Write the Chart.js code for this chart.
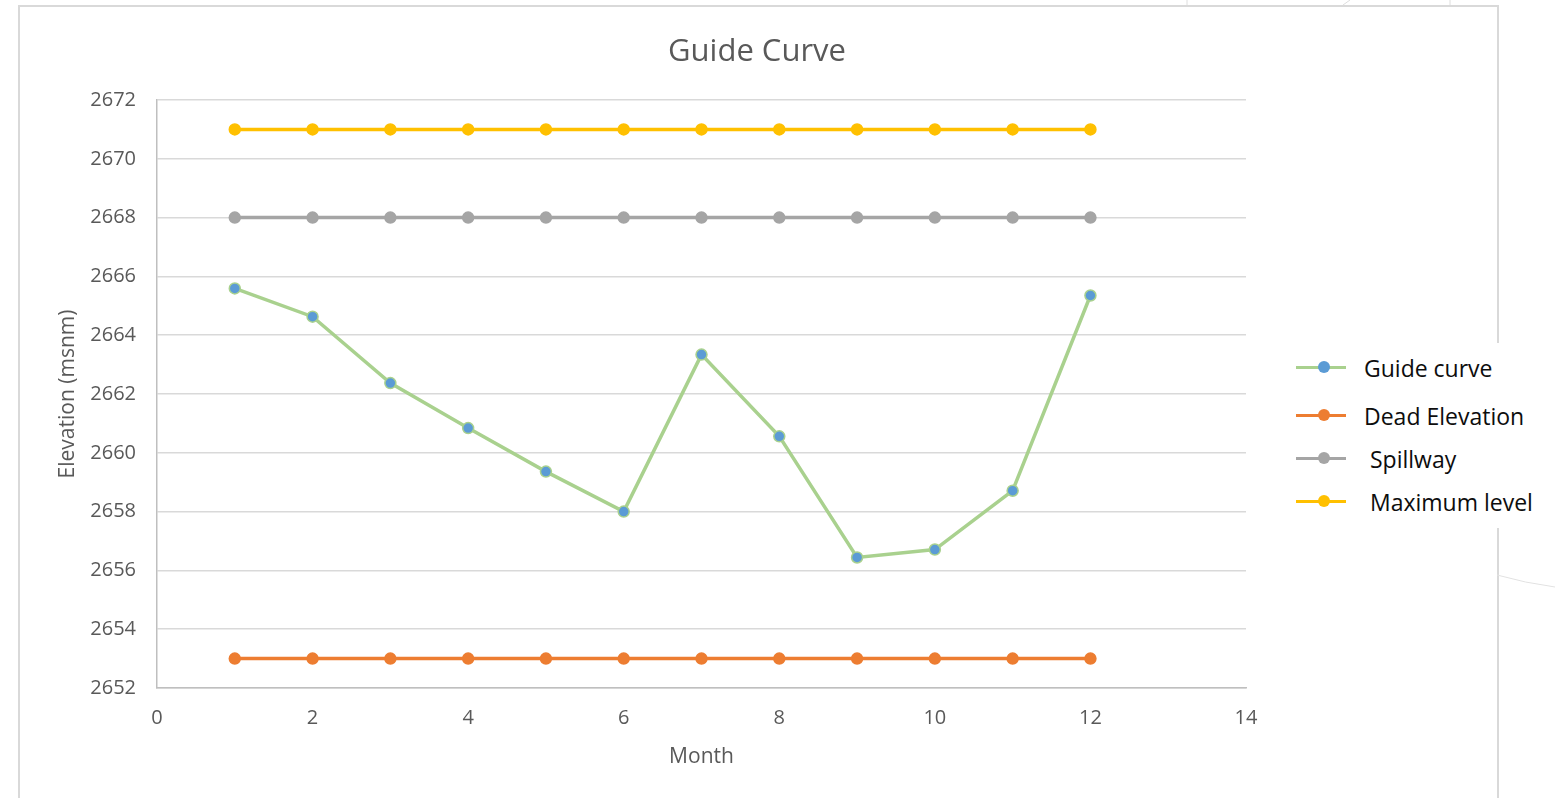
<!DOCTYPE html>
<html>
<head>
<meta charset="utf-8">
<title>Guide Curve</title>
<script src="https://cdn.jsdelivr.net/npm/chart.js"></script>
<style>
    html, body { margin: 0; padding: 0; background: #fff; }
    body { width: 1555px; height: 798px; position: relative; overflow: hidden; font-family: "Open Sans", sans-serif; }
    .frame { position: absolute; left: 18px; top: 5px; width: 1477px; height: 820px; border: 2px solid #d9d9d9; }
    .wrap { position: absolute; left: 0; top: 0; width: 1555px; height: 798px; }
    .deco { position: absolute; left: 0; top: 0; }
    .chart-title { position: absolute; left: 557px; width: 400px; top: 29px; text-align: center; font-size: 31px; line-height: 40px; color: #595959; }
    .legend { position: absolute; left: 1286px; top: 343px; width: 269px; height: 185px; background: #fff; }
    .legend-item { position: absolute; left: 0; height: 30px; }
    .legend-item .swatch { position: absolute; left: 10px; top: 13px; width: 50px; height: 3px; }
    .legend-item .dot { position: absolute; left: 32px; top: 8px; width: 12px; height: 12px; border-radius: 50%; }
    .legend-item .label { position: absolute; top: 0; white-space: pre; font-size: 23px; line-height: 30px; color: #0d0d0d; }
</style>
</head>
<body>
<div class="frame"></div>
<svg class="deco" width="1555" height="798">
    <path d="M1187 0 L1187 5 M1450 0 L1450 5 M1343 5 L1350 0" stroke="#dedede" stroke-width="1" fill="none"/>
    <path d="M1497 575 Q1525 583 1555 587" stroke="#e2e2e2" stroke-width="1" fill="none"/>
</svg>
<div class="wrap"><canvas id="guideChart" width="1555" height="798"></canvas></div>
<div class="chart-title">Guide Curve</div>
<div class="legend" id="legend"></div>
<script>
    // Chart data
    const months = [1, 2, 3, 4, 5, 6, 7, 8, 9, 10, 11, 12];
    const guideCurve = [2665.59, 2664.63, 2662.37, 2660.84, 2659.36, 2658.0, 2663.34, 2660.56, 2656.44, 2656.71, 2658.71, 2665.35];
    const deadElevation = [2653, 2653, 2653, 2653, 2653, 2653, 2653, 2653, 2653, 2653, 2653, 2653];
    const spillway = [2668, 2668, 2668, 2668, 2668, 2668, 2668, 2668, 2668, 2668, 2668, 2668];
    const maximumLevel = [2671, 2671, 2671, 2671, 2671, 2671, 2671, 2671, 2671, 2671, 2671, 2671];
    const seriesNames = ['Guide curve', 'Dead Elevation', ' Spillway', ' Maximum level'];
    const xTicks = [0, 2, 4, 6, 8, 10, 12, 14];
    const yTicks = [2652, 2654, 2656, 2658, 2660, 2662, 2664, 2666, 2668, 2670, 2672];

    const toPoints = (vals) => vals.map((v, i) => ({ x: months[i], y: v }));

    function makeSet(label, values, lineColor, dotColor) {
        return {
            label: label,
            data: toPoints(values),
            borderColor: lineColor,
            backgroundColor: dotColor,
            pointBackgroundColor: dotColor,
            pointBorderColor: lineColor,
            pointBorderWidth: 1.5,
            pointRadius: 5.5,
            borderWidth: 3.5,
            tension: 0,
            fill: false
        };
    }

    const datasets = [
        makeSet(seriesNames[0], guideCurve, '#a9d18e', '#5b9bd5'),
        makeSet(seriesNames[1], deadElevation, '#ed7d31', '#ed7d31'),
        makeSet(seriesNames[2], spillway, '#a5a5a5', '#a5a5a5'),
        makeSet(seriesNames[3], maximumLevel, '#ffc000', '#ffc000')
    ];

    const tickColor = '#595959';
    const tickFont = { family: '"Open Sans", sans-serif', size: 20 };

    new Chart(document.getElementById('guideChart').getContext('2d'), {
        type: 'line',
        data: { datasets: datasets },
        options: {
            responsive: false,
            animation: false,
            layout: { padding: { left: 40, right: 309, top: 100, bottom: 20 } },
            plugins: {
                legend: { display: false },
                tooltip: { enabled: false },
                title: { display: false }
            },
            scales: {
                x: {
                    type: 'linear',
                    min: xTicks[0],
                    max: xTicks[xTicks.length - 1],
                    afterBuildTicks: (scale) => { scale.ticks = xTicks.map(v => ({ value: v })); },
                    afterFit: (scale) => { scale.height = 90; },
                    grid: { display: false, drawTicks: false },
                    border: { display: true, color: '#bfbfbf', width: 1.5 },
                    ticks: { color: tickColor, font: tickFont, padding: 18, maxRotation: 0, callback: (v) => String(v) },
                    title: {
                        display: true,
                        text: 'Month',
                        color: tickColor,
                        font: { family: '"Open Sans", sans-serif', size: 21 },
                        padding: { top: 0, bottom: 8 }
                    }
                },
                y: {
                    type: 'linear',
                    min: yTicks[0],
                    max: yTicks[yTicks.length - 1],
                    afterBuildTicks: (scale) => { scale.ticks = yTicks.map(v => ({ value: v })); },
                    afterFit: (scale) => { scale.width = 117; },
                    grid: { color: '#d9d9d9', lineWidth: 1.5, drawTicks: false },
                    border: { display: true, color: '#bfbfbf', width: 1.5 },
                    ticks: { color: tickColor, font: tickFont, padding: 21, callback: (v) => String(v) },
                    title: {
                        display: true,
                        text: 'Elevation (msnm)',
                        color: tickColor,
                        font: { family: '"Open Sans", sans-serif', size: 21 },
                        padding: { top: 15, bottom: 0 }
                    }
                }
            }
        }
    });

    // Legend built from the datasets
    const legendRows = [10, 58, 101, 144];
    const labelLeft = [78, 78, 78, 78];
    const legendEl = document.getElementById('legend');
    datasets.forEach((ds, i) => {
        const item = document.createElement('div');
        item.className = 'legend-item';
        item.style.top = legendRows[i] + 'px';
        item.innerHTML =
            '<div class="swatch" style="background:' + ds.borderColor + '"></div>' +
            '<div class="dot" style="background:' + ds.pointBackgroundColor + '"></div>' +
            '<div class="label" style="left:' + labelLeft[i] + 'px">' + ds.label + '</div>';
        legendEl.appendChild(item);
    });
</script>
</body>
</html>
